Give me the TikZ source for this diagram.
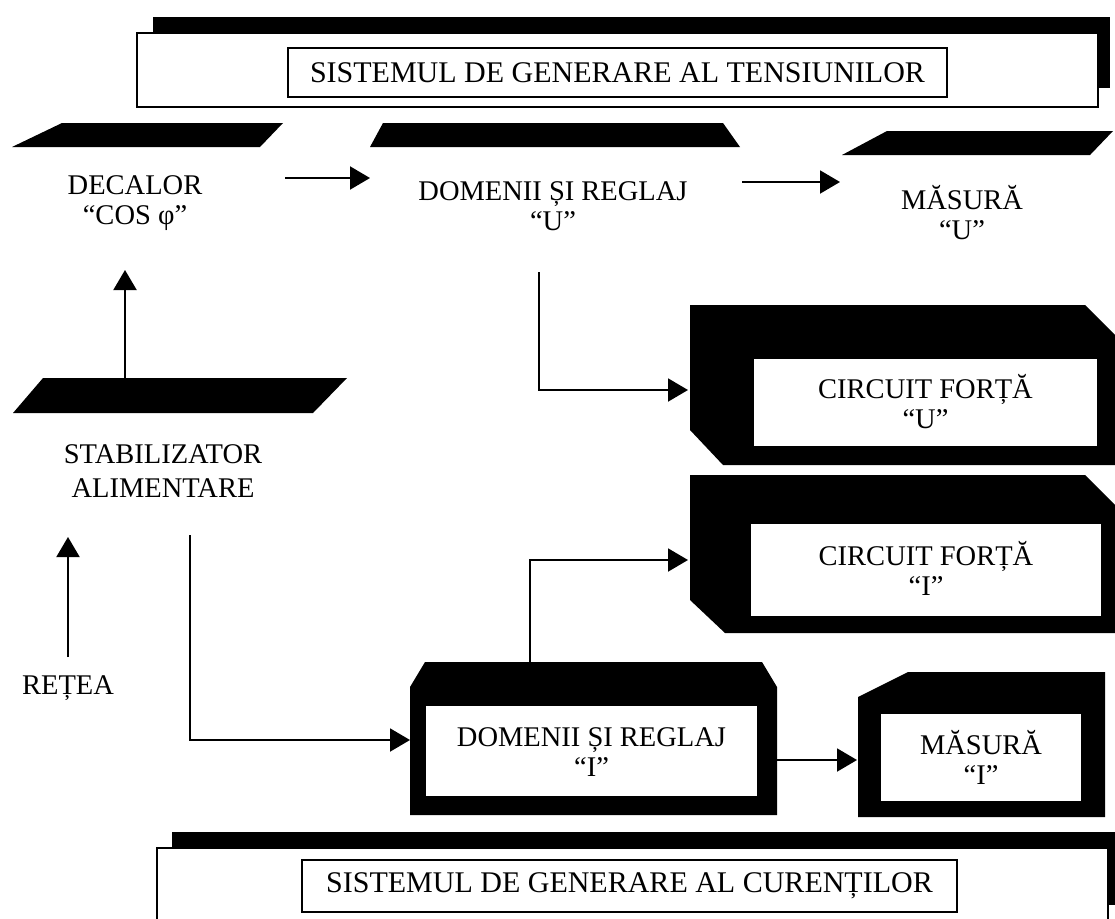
\documentclass[tikz,border=0pt]{standalone}
\usepackage{fontspec}
\setmainfont{Liberation Serif}
\usetikzlibrary{arrows.meta}
\newcommand\lblfont{\fontsize{28.5}{30}\selectfont}
\newcommand\banfont{\fontsize{30}{31}\selectfont}
\begin{document}
\begin{tikzpicture}[x=1pt,y=-1pt,
  lbl/.style={font=\lblfont, align=center, inner sep=0pt},
  banner/.style={font=\banfont, draw=black, line width=2pt, fill=white, inner sep=0pt},
  face/.style={fill=white, draw=black, line width=1.5pt},
  conn/.style={line width=2pt, -{Triangle[length=20pt,width=23pt]}},
  plate/.style={fill=black}]
\useasboundingbox (0,0) rectangle (1115,918);
\clip (0,0) rectangle (1115,918);

% ---- voltage generation system banner
\fill (153,17) rectangle (1110,88);
\draw[face] (137,33) rectangle (1098,107);
\node[banner, minimum width=659pt, minimum height=49pt] (tens) at (617.5,72.5)
  {SISTEMUL DE GENERARE AL TENSIUNILOR};

% ---- flat blocks (black lids with captions below)
\fill[plate] (62,123) -- (283,123) -- (260,147) -- (12,147) -- cycle;
\node[lbl] (dec) at (135,203) {DECALOR\\“COS φ”};
\fill[plate] (383,123) -- (723,123) -- (740,147) -- (370,147) -- cycle;
\node[lbl] (domu) at (553,206) {DOMENII ȘI REGLAJ\\“U”};
\fill[plate] (887,131) -- (1113,131) -- (1090,155) -- (842,155) -- cycle;
\node[lbl] (masu) at (962,213) {MĂSURĂ\\“U”};
\fill[plate] (43,378) -- (347,378) -- (313,413) -- (13,413) -- cycle;
\node[lbl] (stab) at (163,471) {STABILIZATOR\\[4pt]ALIMENTARE};
\node[lbl] (retea) at (68,688) {REȚEA};

% ---- boxed blocks
\fill[plate] (690,305) -- (1085,305) -- (1115,335) -- (1115,465) -- (723,465) -- (690,430) -- cycle;
\draw[face] (753,358) rectangle (1098,447);
\node[lbl] (cfu) at (925.5,402) {CIRCUIT FORȚĂ\\“U”};

\fill[plate] (690,475) -- (1085,475) -- (1115,505) -- (1115,633) -- (725,633) -- (690,600) -- cycle;
\draw[face] (750,523) rectangle (1102,617);
\node[lbl] (cfi) at (926,568) {CIRCUIT FORȚĂ\\“I”};

\fill[plate] (425,662) -- (762,662) -- (777,687) -- (777,815) -- (410,815) -- (410,687) -- cycle;
\draw[face] (425,705) rectangle (758,797);
\node[lbl] (domi) at (591.5,752) {DOMENII ȘI REGLAJ\\“I”};

\fill[plate] (908,672) -- (1105,672) -- (1105,817) -- (858,817) -- (858,697) -- cycle;
\draw[face] (880,713) rectangle (1082,802);
\node[lbl] (masi) at (981,757) {MĂSURĂ\\“I”};

% ---- current generation system banner
\fill (172,832) rectangle (1118,905);
\draw[face] (157,848) rectangle (1108,940);
\node[banner, minimum width=655pt, minimum height=52pt] (cur) at (629.5,886)
  {SISTEMUL DE GENERARE AL CURENȚILOR};

% ---- connector end points
\coordinate (decE)   at (285,178);
\coordinate (domuW)  at (370,178);
\coordinate (domuE)  at (742,182);
\coordinate (masuW)  at (840,182);
\coordinate (domuS)  at (539,272);
\coordinate (cfuW)   at (688,390);
\coordinate (stabN)  at (125,378);
\coordinate (decS)   at (125,270);
\coordinate (reteaN) at (68,657);
\coordinate (stabS)  at (68,537);
\coordinate (stabO)  at (190,535);
\coordinate (domiW)  at (410,740);
\coordinate (domiN)  at (530,662);
\coordinate (cfiW)   at (688,560);
\coordinate (domiE)  at (777,760);
\coordinate (masiW)  at (857,760);

% ---- signal flow
\draw[conn] (decE) -- (domuW);
\draw[conn] (domuE) -- (masuW);
\draw[conn] (domuS) |- (cfuW);
\draw[conn] (stabN) -- (decS);
\draw[conn] (reteaN) -- (stabS);
\draw[conn] (stabO) |- (domiW);
\draw[conn] (domiN) |- (cfiW);
\draw[conn] (domiE) -- (masiW);
\end{tikzpicture}
\end{document}
